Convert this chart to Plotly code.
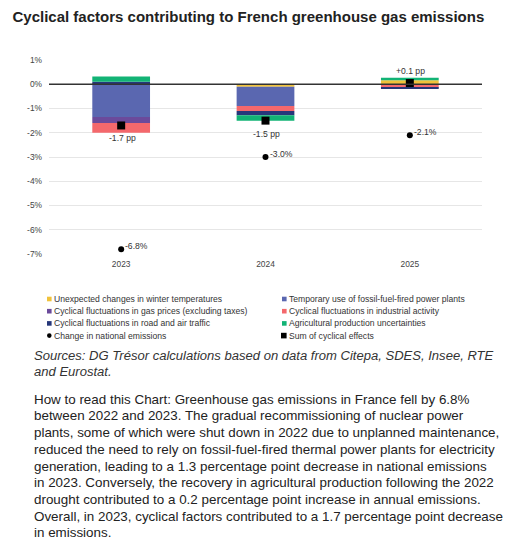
import plotly.graph_objects as go

# ---------------- data ----------------
years = ["2023", "2024", "2025"]
series_names = [
    "Unexpected changes in winter temperatures",
    "Temporary use of fossil-fuel-fired power plants",
    "Cyclical fluctuations in gas prices (excluding taxes)",
    "Cyclical fluctuations in industrial activity",
    "Cyclical fluctuations in road and air traffic",
    "Agricultural production uncertainties",
]
winter_temps = [0.05, -0.10, 0.17]
power_plants = [-1.35, -0.80, 0.0]
gas_prices = [-0.25, 0.0, 0.0]
industrial = [-0.40, -0.20, -0.14]
road_air = [0.05, -0.18, -0.06]
agricultural = [0.22, -0.22, 0.10]
national_change = [-6.8, -3.0, -2.1]
national_labels = ["-6.8%", "-3.0%", "-2.1%"]
cyclical_sum = [-1.7, -1.5, 0.05]
sum_labels = ["-1.7 pp", "-1.5 pp", "+0.1 pp"]
y_ticks = [1, 0, -1, -2, -3, -4, -5, -6, -7]
y_tick_labels = [f"{v}%" for v in y_ticks]

sources_lines = [
    "Sources: DG Trésor calculations based on data from Citepa, SDES, Insee, RTE",
    "and Eurostat.",
]
body_lines = [
    "How to read this Chart: Greenhouse gas emissions in France fell by 6.8%",
    "between 2022 and 2023. The gradual recommissioning of nuclear power",
    "plants, some of which were shut down in 2022 due to unplanned maintenance,",
    "reduced the need to rely on fossil-fuel-fired thermal power plants for electricity",
    "generation, leading to a 1.3 percentage point decrease in national emissions",
    "in 2023. Conversely, the recovery in agricultural production following the 2022",
    "drought contributed to a 0.2 percentage point increase in annual emissions.",
    "Overall, in 2023, cyclical factors contributed to a 1.7 percentage point decrease",
    "in emissions.",
]

# ---------------- styles ----------------
colors = ["#f0c23b", "#5a67b0", "#6b4a9b", "#f4686c", "#26377a", "#12b375"]
FONT = "Liberation Sans, Arial, sans-serif"
W, H = 516, 541
ML, MR, MT, MB = 49, 34, 60, 287
PW, PH = W - ML - MR, H - MT - MB


def px_x(px):
    return (px - ML) / PW


def px_y(py):
    return (H - MB - py) / PH


fig = go.Figure()
series_values = [winter_temps, power_plants, gas_prices, industrial, road_air, agricultural]
for name, vals, col in zip(series_names, series_values, colors):
    fig.add_trace(go.Bar(x=years, y=vals, name=name, marker=dict(color=col, line=dict(width=0)),
                         showlegend=False))

fig.add_trace(go.Scatter(x=years, y=national_change, mode="markers", name="Change in national emissions",
                         marker=dict(symbol="circle", size=6, color="#000000"), showlegend=False))
fig.add_trace(go.Scatter(x=years, y=cyclical_sum, mode="markers", name="Sum of cyclical effects",
                         marker=dict(symbol="square", size=8, color="#000000"), showlegend=False))

annotations = []
shapes = []
# zero line above bars
shapes.append(dict(type="line", xref="paper", yref="y", x0=0, x1=1, y0=0, y1=0,
                   line=dict(color="#333333", width=1.3), layer="above"))

# point labels (category index positions on the category axis)
for i, (v, t) in enumerate(zip(national_change, national_labels)):
    annotations.append(dict(x=i, y=v, xref="x", yref="y", text=t, showarrow=False,
                            xanchor="left", yanchor="middle", xshift=3, yshift=3.5, borderpad=0,
                            font=dict(family=FONT, size=8.6, color="#333333")))
for i, (v, t) in enumerate(zip(cyclical_sum, sum_labels)):
    annotations.append(dict(x=i, y=v, xref="x", yref="y", text=t, showarrow=False,
                            xanchor="center", yanchor="middle", xshift=1,
                            yshift=(-13 if v < 0 else 12), borderpad=0,
                            font=dict(family=FONT, size=8.6, color="#333333")))

# legend (two columns, row-major in trace order)
leg_cols = [47, 282]
leg_row0, leg_dy = 299, 12.2
for i, tr in enumerate(fig.data):
    cx = leg_cols[i % 2]
    cy = leg_row0 + (i // 2) * leg_dy
    if tr.type == "bar":
        s = 4.6
        shapes.append(dict(type="rect", xref="paper", yref="paper",
                           x0=px_x(cx), x1=px_x(cx + s), y0=px_y(cy - s / 2), y1=px_y(cy + s / 2),
                           fillcolor=tr.marker.color, line=dict(width=0)))
        tx = cx + s + 1.8
    elif tr.marker.symbol == "circle":
        s = 4.6
        shapes.append(dict(type="circle", xref="paper", yref="paper",
                           x0=px_x(cx), x1=px_x(cx + s), y0=px_y(cy - s / 2), y1=px_y(cy + s / 2),
                           fillcolor="#000000", line=dict(width=0)))
        tx = cx + s + 1.8
    else:
        s = 5.6
        shapes.append(dict(type="rect", xref="paper", yref="paper",
                           x0=px_x(cx - 1), x1=px_x(cx - 1 + s), y0=px_y(cy - s / 2), y1=px_y(cy + s / 2),
                           fillcolor="#000000", line=dict(width=0)))
        tx = cx - 1 + s + 1.5
    annotations.append(dict(x=px_x(tx), y=px_y(cy), xref="paper", yref="paper", text=tr.name,
                            showarrow=False, xanchor="left", yanchor="middle", borderpad=0,
                            font=dict(family=FONT, size=8.6, color="#333333")))

# sources & reading notes
for k, line in enumerate(sources_lines):
    annotations.append(dict(x=px_x(33), y=px_y(355 + k * 16.7), xref="paper", yref="paper",
                            text=f"<i>{line}</i>", showarrow=False, xanchor="left", yanchor="middle",
                            borderpad=0, font=dict(family=FONT, size=13.05, color="#333333")))
for k, line in enumerate(body_lines):
    annotations.append(dict(x=px_x(33), y=px_y(399.3 + k * 16.68), xref="paper", yref="paper",
                            text=line, showarrow=False, xanchor="left", yanchor="middle",
                            borderpad=0, font=dict(family=FONT, size=13.4, color="#222222")))

fig.update_layout(
    width=W, height=H,
    margin=dict(l=ML, r=MR, t=MT, b=MB, pad=0),
    paper_bgcolor="#ffffff", plot_bgcolor="#ffffff",
    barmode="relative", bargap=0.6,
    title=dict(text="<b>Cyclical factors contributing to French greenhouse gas emissions</b>",
               xref="container", yref="container", x=12.5 / W, xanchor="left",
               y=1 - 17 / H, yanchor="middle",
               font=dict(family=FONT, size=15, color="#222222")),
    xaxis=dict(type="category", range=[-0.5, len(years) - 0.5], autorange=False,
               showgrid=False, showline=False, zeroline=False, ticks="", ticklabelstandoff=4,
               tickfont=dict(family=FONT, size=8.4, color="#444444")),
    yaxis=dict(range=[-7, 1], tickvals=y_ticks, ticktext=y_tick_labels, showgrid=True,
               gridcolor="#e6e6e6", gridwidth=1, zeroline=False, showline=False, ticks="",
               ticklabelstandoff=6,
               tickfont=dict(family=FONT, size=8.4, color="#444444")),
    annotations=annotations,
    shapes=shapes,
    showlegend=False,
)

fig.write_html("out.html")
